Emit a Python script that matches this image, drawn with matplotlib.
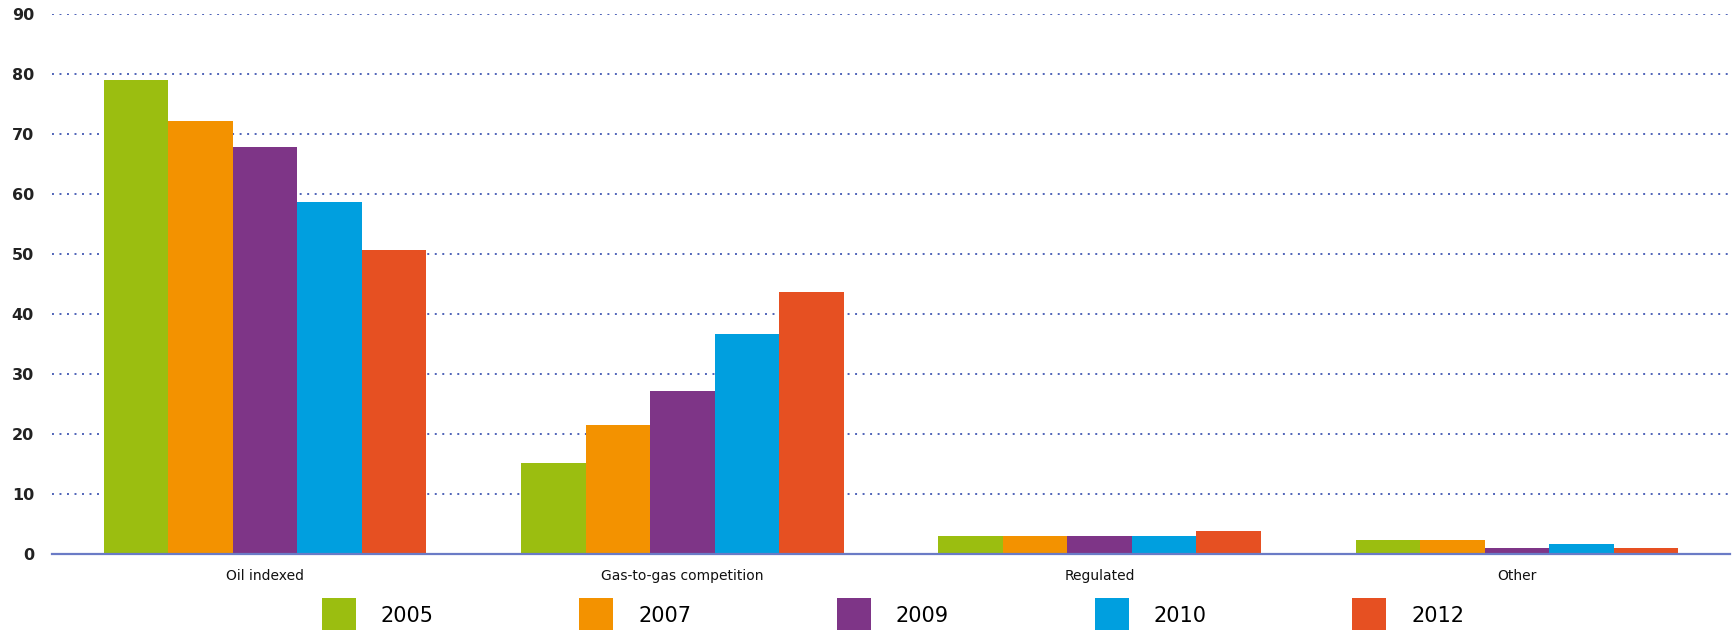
import numpy as np
import matplotlib
matplotlib.use("Agg")
import matplotlib.pyplot as plt

categories = ["Oil indexed", "Gas-to-gas competition", "Regulated", "Other"]
years = ["2005", "2007", "2009", "2010", "2012"]
colors = ["#9BBE10", "#F39200", "#7E3587", "#009FDF", "#E65022"]

v2005 = [79.1, 15.1, 2.9, 2.2]
v2007 = [72.2, 21.5, 2.9, 2.2]
v2009 = [67.8, 27.2, 2.9, 0.9]
v2010 = [58.6, 36.6, 2.9, 1.6]
v2012 = [50.7, 43.6, 3.7, 0.9]
series = [v2005, v2007, v2009, v2010, v2012]

fig = plt.figure(figsize=(17.33, 6.30), dpi=100)
ax = fig.add_axes([52 / 1733, 1 - 553.5 / 630, (1730 - 52) / 1733, (553.5 - 14.4) / 630])

x = np.arange(len(categories))
w = 0.1545
handles = []
for i, (vals, c, yr) in enumerate(zip(series, colors, years)):
    b = ax.bar(x + (i - 2) * w, vals, width=w, color=c, linewidth=0, zorder=3, label=yr)
    handles.append(b)

ax.set_xlim(-0.51, 3.51)
ax.set_ylim(0, 90)
ax.set_yticks(range(0, 91, 10))
ax.set_xticks(x)
ax.set_xticklabels(categories, fontsize=10, color="#111111")
ax.tick_params(axis='x', length=0, pad=11)
ax.tick_params(axis='y', length=0, pad=13, labelsize=11.5, labelcolor="#222222")
for lab in ax.get_yticklabels():
    lab.set_fontweight('bold')

# dotted gridlines, ~7.5 px between dots
ax.yaxis.grid(True, color="#4F63B8", linestyle=(0, (1, 2.86)), linewidth=1.4, zorder=0)
ax.set_axisbelow(True)
for s in ["top", "right", "left"]:
    ax.spines[s].set_visible(False)
ax.spines["bottom"].set_color("#6A7BC6")
ax.spines["bottom"].set_linewidth(1.6)
ax.spines["bottom"].set_zorder(4)

fs = 15
px = fs * 100 / 72
fig.legend(handles=handles, loc='upper left', bbox_to_anchor=(321.5 / 1733, 1 - 598 / 630),
           ncol=5, frameon=False, fontsize=fs, borderpad=0, borderaxespad=0,
           handlelength=34 / px, handleheight=2.13, handletextpad=25 / px,
           columnspacing=145.7 / px)

fig.savefig("out.png", dpi=100)
